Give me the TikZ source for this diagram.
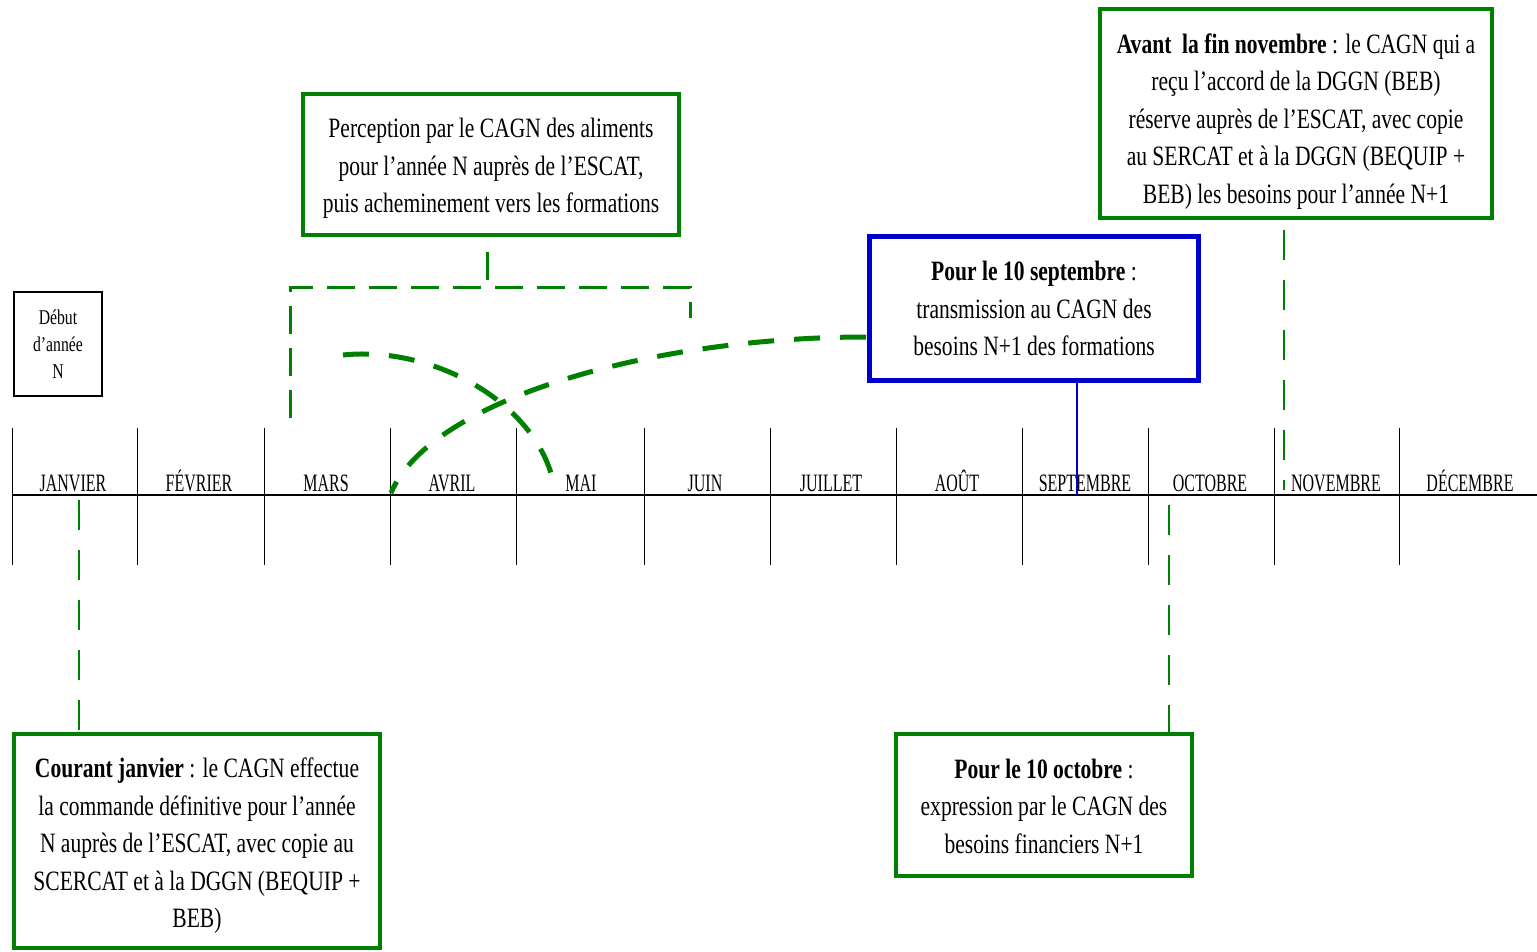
\documentclass[tikz,border=0pt]{standalone}
\usepackage{fontspec}
\setmainfont[FakeStretch=0.77]{Liberation Serif}
\newfontfamily\monthfont[FakeStretch=0.64]{Liberation Serif}
\newfontfamily\debutfont[FakeStretch=0.75]{Liberation Serif}
\usetikzlibrary{calc}
\definecolor{dgreen}{RGB}{0,128,0}
\definecolor{dblue}{RGB}{0,0,204}
\begin{document}
\begin{tikzpicture}[x=1pt,y=-1pt,
  boxtext/.style={align=center,inner sep=0pt,font=\fontsize{28}{37.5}\selectfont},
  gbox/.style={draw=dgreen,line width=4.5pt,fill=white,inner sep=0pt},
  bbox/.style={draw=dblue,line width=5.5pt,fill=white,inner sep=0pt},
  month/.style={font=\monthfont\fontsize{25}{25}\selectfont,anchor=base,inner sep=0pt},
  tickline/.style={line width=1pt},
  bracket/.style={dgreen,line width=3pt,dash pattern=on 28pt off 14pt},
  arcdash/.style={dgreen,line width=5pt,dash pattern=on 26pt off 20pt},
  vdash/.style={dgreen,line width=2.5pt,dash pattern=on 30pt off 20pt},
  blueline/.style={dblue,line width=2pt},
]
\useasboundingbox (0,0) rectangle (1537,951);
\fill[white] (0,0) rectangle (1537,951);

% timeline
\draw[line width=1.3pt] (12,495) -- (1537,495);
\foreach \x [count=\i] in {12,137,264,390,516,644,770,896,1022,1148,1274,1399} {
  \draw[tickline] (\x,428) -- (\x,565);
  \coordinate (tk\i) at (\x,495);
}
\foreach \x/\m [count=\i] in {73/JANVIER,199/FÉVRIER,326/MARS,452/AVRIL,581/MAI,705/JUIN,831/JUILLET,957/AOÛT,1085/SEPTEMBRE,1210/OCTOBRE,1336/NOVEMBRE,1470/DÉCEMBRE} {
  \node[month] (m\i) at (\x,491) {\m};
}

% boxes
\node[draw=black,line width=2pt,align=center,inner sep=0pt,minimum width=88pt,minimum height=104pt,
      font=\debutfont\fontsize{21}{27}\selectfont] (debut) at (58,344) {Début\\d’année\\N};

\node[gbox,minimum width=376pt,minimum height=141pt] (perc) at (491,164.5) {};
\node[boxtext] (perct) at ($(perc.center)+(0,4)$)
  {Perception par le CAGN des aliments\\pour l’année N auprès de l’ESCAT,\\puis acheminement vers les formations};

\node[bbox,minimum width=329pt,minimum height=144pt] (sept) at (1034,308.5) {};
\node[boxtext] (septt) at (sept.center)
  {\textbf{Pour le 10 septembre} :\\transmission au CAGN des\\besoins N+1 des formations};

\node[gbox,minimum width=392pt,minimum height=209pt] (avant) at (1296,113.5) {};
\node[boxtext] (avantt) at ($(avant.center)+(0,8)$)
  {\textbf{Avant\ \ la fin novembre} : le CAGN qui a\\reçu l’accord de la DGGN (BEB)\\réserve auprès de l’ESCAT, avec copie\\au SERCAT et à la DGGN (BEQUIP +\\BEB) les besoins pour l’année N+1};

\node[gbox,minimum width=366pt,minimum height=214pt] (courant) at (197,841) {};
\node[boxtext] (courantt) at ($(courant.center)+(0,5)$)
  {\textbf{Courant janvier} : le CAGN effectue\\la commande définitive pour l’année\\N auprès de l’ESCAT, avec copie au\\SCERCAT et à la DGGN (BEQUIP +\\BEB)};

\node[gbox,minimum width=296pt,minimum height=142pt] (octo) at (1044,805) {};
\node[boxtext] (octot) at ($(octo.center)+(0,1)$)
  {\textbf{Pour le 10 octobre} :\\expression par le CAGN des\\besoins financiers N+1};

% connector coordinates
\coordinate (pbr) at (487,252);
\coordinate (brL) at (290,287);
\coordinate (brR) at (690,287);
\coordinate (brLb) at (290,418);
\coordinate (brRb) at (690,318);
\coordinate (septL) at (866,337);
\coordinate (avr) at (391,493);
\coordinate (arcA) at (343,355);
\coordinate (arcB) at (555,492);
\coordinate (janc) at (79,500);
\coordinate (octc) at (1169,505);
\coordinate (novt) at (1284,230);
\coordinate (novb) at (1284,490);
\coordinate (sepc) at (1077,495);

% bracket under Perception box
\draw[dgreen,line width=3pt] (pbr) -- ($(pbr)+(0,28)$);
\draw[bracket] (brLb) -- (brL) -- (brR) -- (brRb);

% dashed arcs
\draw[arcdash] (septL) .. controls (650,337) and (430,400) .. (avr);
\draw[arcdash] (arcA) .. controls (440,345) and (545,410) .. (arcB);

% verticals
\draw[vdash] (janc) -- (janc |- courant.north);
\draw[vdash] (octc) -- (octc |- octo.north);
\draw[vdash] (novt) -- (novb);
\draw[blueline] (sepc |- sept.south) -- (sepc);
\end{tikzpicture}
\end{document}
